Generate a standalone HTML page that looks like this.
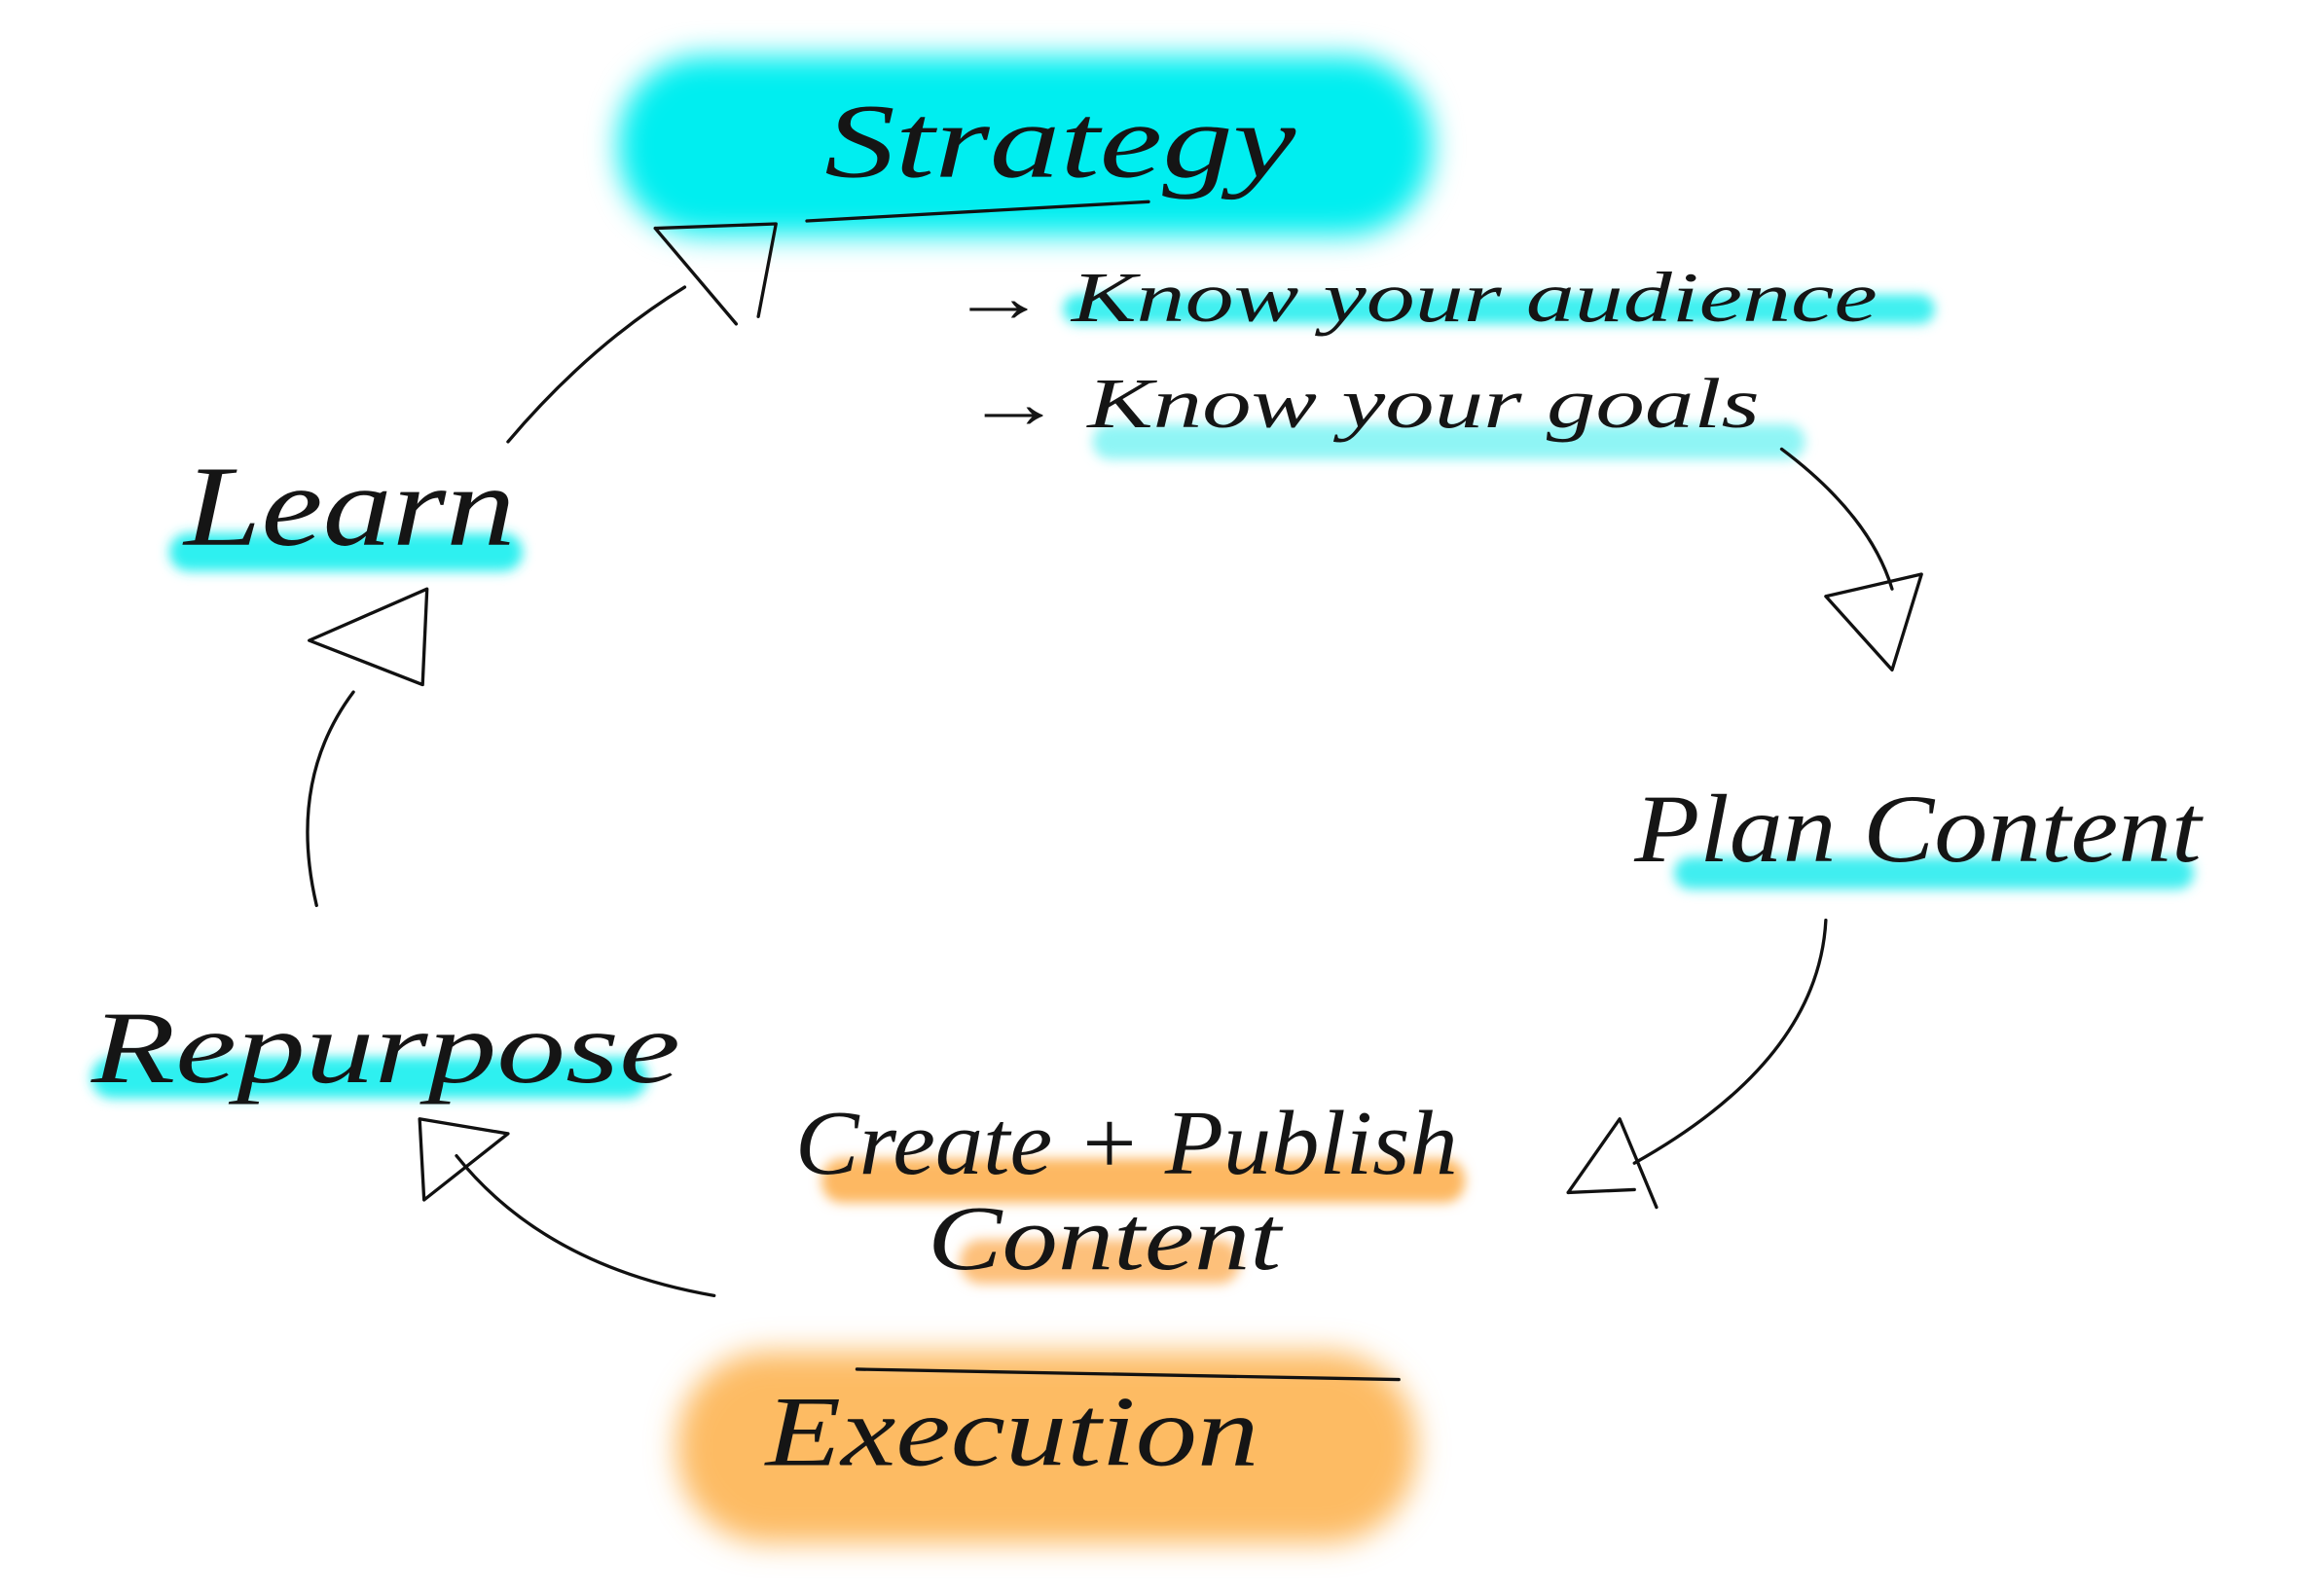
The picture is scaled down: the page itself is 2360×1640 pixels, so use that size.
<!DOCTYPE html>
<html><head><meta charset="utf-8"><style>
html,body{margin:0;padding:0;background:#fff;}
svg{display:block;}
text{font-family:"Liberation Serif",serif;font-style:italic;fill:#151515;}
</style></head><body>
<svg width="2360" height="1640" viewBox="0 0 1560 1084" xmlns="http://www.w3.org/2000/svg">
<defs>
<filter id="b" x="-20%" y="-50%" width="140%" height="200%"><feGaussianBlur stdDeviation="10"/></filter>
<filter id="b2" x="-20%" y="-50%" width="140%" height="200%"><feGaussianBlur stdDeviation="4"/></filter>
</defs>
<rect x="420" y="38" width="552" height="122" rx="58" fill="#00eef0" filter="url(#b)"/>
<rect x="460" y="918" width="502" height="130" rx="62" fill="#fdbb63" filter="url(#b)"/>
<rect x="722" y="200" width="592" height="20" rx="10" fill="#3ff0f0" filter="url(#b2)"/>
<rect x="742" y="288" width="484" height="24" rx="12" fill="#8ff5f5" filter="url(#b2)"/>
<rect x="1137" y="582" width="353" height="22" rx="11" fill="#3feef0" filter="url(#b2)"/>
<rect x="558" y="787" width="437" height="30" rx="14" fill="#fdb862" filter="url(#b2)"/>
<rect x="652" y="842" width="190" height="30" rx="14" fill="#fdc07a" filter="url(#b2)"/>
<rect x="62" y="718" width="378" height="28" rx="14" fill="#2ff0f0" filter="url(#b2)"/>
<rect x="115" y="362" width="240" height="26" rx="13" fill="#2ff0f0" filter="url(#b2)"/>
<text x="560" y="120" font-size="72" textLength="320" lengthAdjust="spacingAndGlyphs">Strategy</text>
<text x="645" y="218" font-size="48" textLength="630" lengthAdjust="spacingAndGlyphs">→ Know your audience</text>
<text x="655" y="290" font-size="48" textLength="540" lengthAdjust="spacingAndGlyphs">→ Know your goals</text>
<text x="1110" y="585" font-size="66" textLength="385" lengthAdjust="spacingAndGlyphs">Plan Content</text>
<text x="540" y="797" font-size="62" textLength="450" lengthAdjust="spacingAndGlyphs">Create + Publish</text>
<text x="630" y="862" font-size="62" textLength="240" lengthAdjust="spacingAndGlyphs">Content</text>
<text x="520" y="995" font-size="68" textLength="335" lengthAdjust="spacingAndGlyphs">Execution</text>
<text x="62" y="735" font-size="70" textLength="400" lengthAdjust="spacingAndGlyphs">Repurpose</text>
<text x="125" y="370" font-size="78" textLength="225" lengthAdjust="spacingAndGlyphs">Learn</text>
<g fill="none" stroke="#111" stroke-width="2.2" stroke-linecap="round" stroke-linejoin="round">
<path d="M548 150 L780 137"/>
<path d="M582 930 L950 937"/>
<path d="M345 300 Q400 235 465 195"/>
<path d="M445 155 L527 152 L515 215 M445 155 L500 220"/>
<path d="M1210 305 Q1270 350 1285 400"/>
<path d="M1240 405 L1305 390 L1285 455 Z"/>
<path d="M1240 625 Q1235 720 1110 790"/>
<path d="M1065 810 L1100 760 L1125 820 M1065 810 L1110 808"/>
<path d="M485 880 Q370 860 310 785"/>
<path d="M285 760 L345 770 L288 815 Z"/>
<path d="M215 615 Q195 530 240 470"/>
<path d="M210 435 L290 400 L287 465 Z"/>
</g>
</svg>
</body></html>
